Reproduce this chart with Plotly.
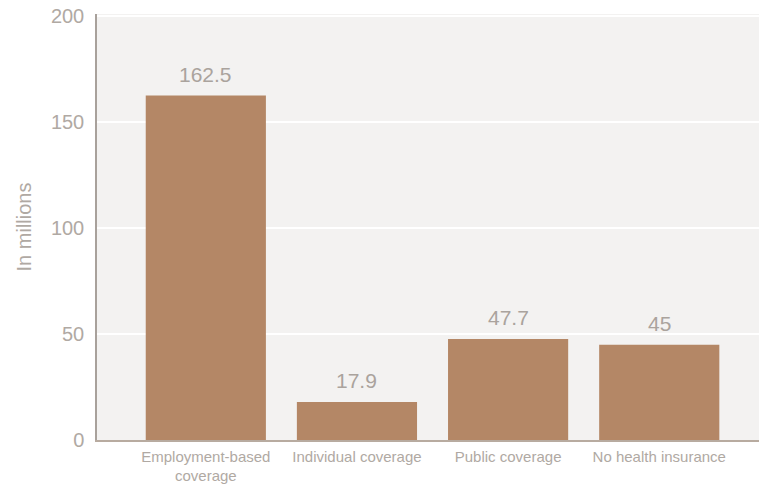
import plotly.graph_objects as go

categories = ["Employment-based<br>coverage", "Individual coverage", "Public coverage", "No health insurance"]
values = [162.5, 17.9, 47.7, 45]
value_labels = ["162.5", "17.9", "47.7", "45"]
y_ticks = [0, 50, 100, 150, 200]

x_idx = list(range(len(categories)))

fig = go.Figure()
fig.add_trace(go.Bar(
    x=x_idx, y=values, width=0.795,
    marker=dict(color="#b48766", line=dict(width=0)),
    hoverinfo="skip",
))

for xi, v, lab in zip(x_idx, values, value_labels):
    fig.add_annotation(x=xi, y=v, text=lab, showarrow=False, yanchor="bottom",
                       yshift=8, font=dict(family="Liberation Sans", size=21, color="#aaa39d"))

fig.update_layout(
    width=759, height=485,
    margin=dict(l=97, r=0, t=14, b=45),
    paper_bgcolor="white", plot_bgcolor="#f3f2f1",
    showlegend=False, bargap=0.2,
    font=dict(family="Liberation Sans", color="#b0a9a3"),
    xaxis=dict(range=[-0.72, 3.66], tickmode="array", tickvals=x_idx, ticktext=categories,
               showgrid=False, zeroline=False, showline=True, linecolor="#b8aba0", linewidth=1.5,
               ticks="", ticklabelstandoff=2, automargin=False,
               tickfont=dict(size=15, color="#b0a9a3"), fixedrange=True),
    yaxis=dict(range=[0, 201], tickvals=y_ticks, showgrid=True, gridcolor="white", gridwidth=2,
               zeroline=False, showline=True, linecolor="#a8a19b", linewidth=1.5, ticks="",
               ticklabelstandoff=7, fixedrange=True, automargin=False,
               tickfont=dict(size=20, color="#b0a9a3"),
               title=dict(text="In millions", font=dict(size=20, color="#b0a9a3"), standoff=14)),
)

fig.write_html("out.html", config={"displayModeBar": False},
               post_script="document.body.style.margin='0';document.body.style.overflow='hidden';")
